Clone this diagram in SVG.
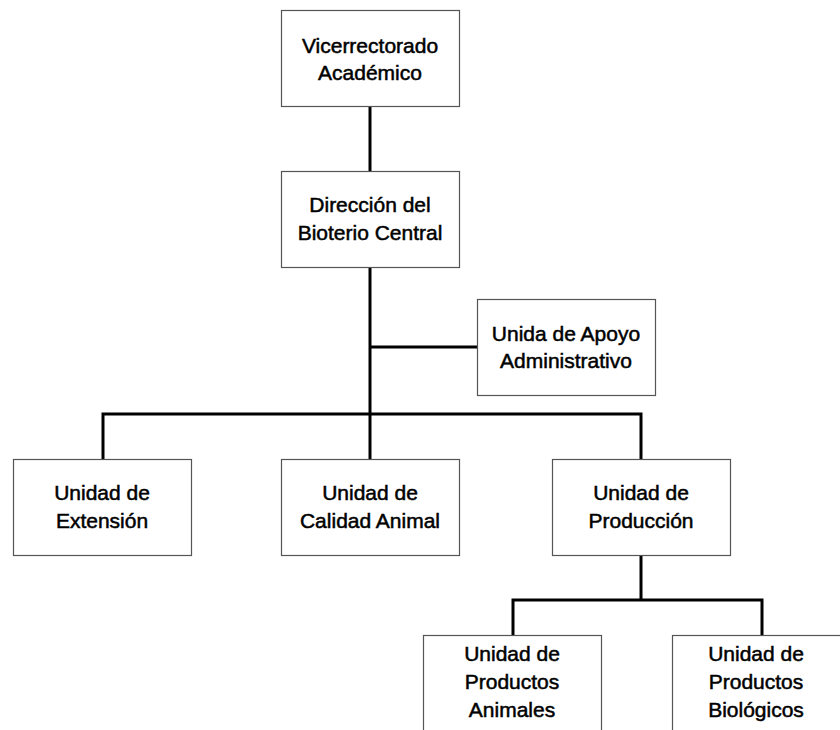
<svg xmlns="http://www.w3.org/2000/svg" width="840" height="730" viewBox="0 0 840 730">
<style>
.box{fill:#fff;stroke:#555;stroke-width:1.2}
.lbl{font-family:"Liberation Sans",Arial,sans-serif;font-size:21px;fill:#000;text-anchor:middle;stroke:#000;stroke-width:0.5}
.conn{fill:none;stroke:#000;stroke-width:3;stroke-linejoin:miter;stroke-linecap:butt}
</style>
<rect width="840" height="730" fill="#fff"/>
<g id="connectors">
<path class="conn" d="M370,106 V171"/>
<path class="conn" d="M370,267 V414"/>
<path class="conn" d="M370,347 H477"/>
<path class="conn" d="M103,459 V414 H641 V459"/>
<path class="conn" d="M370,414 V459"/>
<path class="conn" d="M641,555 V600"/>
<path class="conn" d="M513,635 V600 H762 V635"/>
</g>
<g id="vicerrectorado">
<rect class="box" x="281.5" y="10.5" width="178" height="96"/>
<text class="lbl" x="370" y="53">Vicerrectorado</text>
<text class="lbl" x="370" y="80">Académico</text>
</g>
<g id="direccion">
<rect class="box" x="281.5" y="171.5" width="178" height="96"/>
<text class="lbl" x="370" y="212">Dirección del</text>
<text class="lbl" x="370" y="240">Bioterio Central</text>
</g>
<g id="apoyo">
<rect class="box" x="477.5" y="299.5" width="178" height="96"/>
<text class="lbl" x="566" y="341">Unida de Apoyo</text>
<text class="lbl" x="566" y="368">Administrativo</text>
</g>
<g id="extension">
<rect class="box" x="13.5" y="459.5" width="178" height="96"/>
<text class="lbl" x="102" y="500">Unidad de</text>
<text class="lbl" x="102" y="528">Extensión</text>
</g>
<g id="calidad">
<rect class="box" x="281.5" y="459.5" width="178" height="96"/>
<text class="lbl" x="370" y="500">Unidad de</text>
<text class="lbl" x="370" y="528">Calidad Animal</text>
</g>
<g id="produccion">
<rect class="box" x="552.5" y="459.5" width="178" height="96"/>
<text class="lbl" x="641" y="500">Unidad de</text>
<text class="lbl" x="641" y="528">Producción</text>
</g>
<g id="productos-animales">
<rect class="box" x="423.5" y="635.5" width="178" height="110"/>
<text class="lbl" x="512" y="661">Unidad de</text>
<text class="lbl" x="512" y="689">Productos</text>
<text class="lbl" x="512" y="717">Animales</text>
</g>
<g id="productos-biologicos">
<rect class="box" x="672.5" y="635.5" width="178" height="110"/>
<text class="lbl" x="756" y="661">Unidad de</text>
<text class="lbl" x="756" y="689">Productos</text>
<text class="lbl" x="756" y="717">Biológicos</text>
</g>
</svg>
